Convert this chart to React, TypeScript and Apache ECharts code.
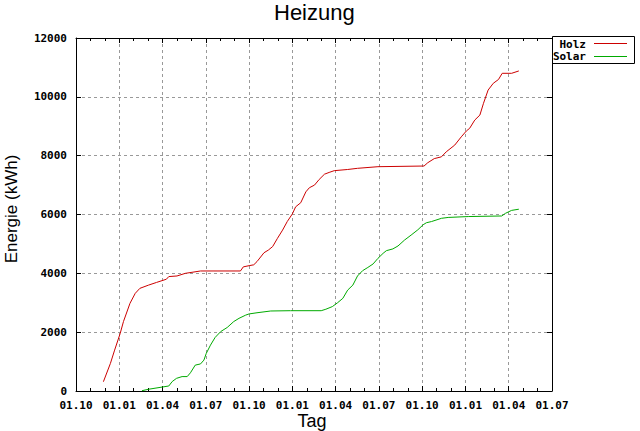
import React, { useEffect, useRef } from "react";
import * as echarts from "echarts";

const TITLE = "Heizung";
const X_NAME = "Tag";
const Y_NAME = "Energie (kWh)";
const SERIES_NAMES = ["Holz", "Solar"];
const SERIES_COLORS = ["#cc0000", "#00aa00"];

// x axis: months counted from 01.10.2008, ticks every 3 months
const X_START_YEAR = 2008;
const X_START_MONTH = 10;
const X_MAX_MONTHS = 33;
const X_TICK_MONTHS = 3;
const Y_MAX = 12000;
const Y_TICK = 2000;

const holzDates = [
  "2008-11-28", "2008-12-13", "2008-12-22", "2009-01-03", "2009-01-10", "2009-01-24",
  "2009-02-04", "2009-02-13", "2009-03-02", "2009-03-19", "2009-04-09", "2009-04-14",
  "2009-05-01", "2009-05-19", "2009-06-20", "2009-09-13", "2009-09-19", "2009-10-01",
  "2009-10-11", "2009-10-18", "2009-11-02", "2009-11-11", "2009-11-20", "2009-11-30",
  "2009-12-11", "2009-12-21", "2010-01-01", "2010-01-08", "2010-01-19", "2010-01-30",
  "2010-02-06", "2010-02-16", "2010-02-25", "2010-03-08", "2010-03-18", "2010-03-29",
  "2010-04-26", "2010-05-17", "2010-06-29", "2010-10-05", "2010-10-13", "2010-10-27",
  "2010-11-11", "2010-11-21", "2010-12-09", "2010-12-23", "2011-01-03", "2011-01-10",
  "2011-01-21", "2011-02-01", "2011-02-08", "2011-02-17", "2011-02-27", "2011-03-10",
  "2011-03-18", "2011-04-07", "2011-04-22",
];
const holzValues = [
  316, 940, 1390, 1960, 2360, 2980,
  3320, 3490, 3600, 3690, 3800, 3890,
  3910, 4000, 4080, 4080, 4220, 4260,
  4290, 4400, 4700, 4790, 4910, 5190,
  5470, 5760, 6020, 6260, 6400, 6770,
  6910, 7000, 7190, 7370, 7430, 7490,
  7530, 7570, 7625, 7648, 7760, 7900,
  7960, 8130, 8360, 8640, 8840, 8930,
  9210, 9380, 9780, 10230, 10460, 10590,
  10800, 10800, 10880,
];

const solarDates = [
  "2009-02-17", "2009-03-02", "2009-04-14", "2009-04-21", "2009-04-30", "2009-05-12",
  "2009-05-23", "2009-05-30", "2009-06-09", "2009-06-20", "2009-06-27", "2009-07-02",
  "2009-07-11", "2009-07-21", "2009-08-02", "2009-08-16", "2009-08-30", "2009-09-10",
  "2009-09-24", "2009-10-01", "2009-10-18", "2009-11-16", "2009-12-28", "2010-03-01",
  "2010-03-11", "2010-03-25", "2010-04-05", "2010-04-16", "2010-04-26", "2010-05-07",
  "2010-05-17", "2010-05-28", "2010-06-08", "2010-06-19", "2010-06-29", "2010-07-10",
  "2010-07-17", "2010-07-31", "2010-08-11", "2010-08-25", "2010-09-08", "2010-09-22",
  "2010-10-03", "2010-10-10", "2010-10-21", "2010-11-11", "2010-11-25", "2011-01-07",
  "2011-03-17", "2011-03-25", "2011-04-07", "2011-04-22",
];
const solarValues = [
  10, 60, 170, 320, 430, 490,
  490, 620, 880, 920, 1050, 1280,
  1560, 1820, 2020, 2160, 2360, 2470,
  2580, 2620, 2660, 2720, 2730, 2730,
  2780, 2870, 3000, 3150, 3430, 3600,
  3910, 4090, 4200, 4320, 4510, 4680,
  4770, 4830, 4930, 5130, 5300, 5480,
  5650, 5720, 5760, 5870, 5900, 5930,
  5950, 6040, 6140, 6180,
];

function monthOffset(date: string): number {
  const [y, m, d] = date.split("-").map(Number);
  const dim = new Date(y, m, 0).getDate();
  return (y - X_START_YEAR) * 12 + (m - X_START_MONTH) + (d - 1) / dim;
}

function toPairs(dates: string[], values: number[]) {
  return dates.map((d, i) => [monthOffset(d), values[i]]);
}

const MONO = "'DejaVu Sans Mono', 'Liberation Mono', monospace";
const SANS = "'Liberation Sans', Arial, sans-serif";

export default function App() {
  const ref = useRef<HTMLDivElement>(null);
  useEffect(() => {
    if (!ref.current) return;
    const chart = echarts.init(ref.current, undefined, { renderer: "svg" });
    const gridLine = { show: true, lineStyle: { color: "#999", type: [3, 3] as any, width: 1 } };
    const tickLabel = { fontFamily: MONO, fontWeight: "bold" as const, fontSize: 11, color: "#000" };
    const axisLine = { show: true, onZero: false, lineStyle: { color: "#000", width: 1 } };
    const xFormatter = (v: number) => {
      const mo = ((X_START_MONTH - 1 + Math.round(v)) % 12) + 1;
      return "01." + String(mo).padStart(2, "0");
    };
    const xBase = {
      type: "value" as const,
      min: 0,
      max: X_MAX_MONTHS,
      interval: X_TICK_MONTHS,
      axisLine,
      axisTick: { show: true, inside: true, length: 5, lineStyle: { color: "#000" } },
      minorTick: { show: true, splitNumber: 3, length: 3, lineStyle: { color: "#000" } },
    };
    const yBase = {
      type: "value" as const,
      min: 0,
      max: Y_MAX,
      interval: Y_TICK,
      axisLine,
      axisTick: { show: true, inside: true, length: 5, lineStyle: { color: "#000" } },
    };
    chart.setOption({
      animation: false,
      backgroundColor: "#fff",
      title: {
        text: TITLE,
        left: 269,
        top: -4,
        textStyle: { fontFamily: SANS, fontSize: 22, fontWeight: "normal", color: "#000" },
      },
      grid: { left: 76, right: 88, top: 38, bottom: 40, containLabel: false },
      xAxis: [
        {
          ...xBase,
          position: "bottom",
          splitLine: gridLine,
          axisLabel: { ...tickLabel, margin: 9, formatter: xFormatter },
        },
        {
          ...xBase,
          position: "top",
          splitLine: { show: false },
          axisLabel: { show: false },
        },
      ],
      yAxis: [
        {
          ...yBase,
          position: "left",
          splitLine: gridLine,
          axisLabel: { ...tickLabel, margin: 9, formatter: (v: number) => String(v) },
        },
        {
          ...yBase,
          position: "right",
          splitLine: { show: false },
          axisLabel: { show: false },
        },
      ],
      series: [
        {
          name: SERIES_NAMES[0],
          type: "line",
          data: toPairs(holzDates, holzValues),
          showSymbol: false,
          lineStyle: { color: SERIES_COLORS[0], width: 1 },
          itemStyle: { color: SERIES_COLORS[0] },
        },
        {
          name: SERIES_NAMES[1],
          type: "line",
          data: toPairs(solarDates, solarValues),
          showSymbol: false,
          lineStyle: { color: SERIES_COLORS[1], width: 1 },
          itemStyle: { color: SERIES_COLORS[1] },
        },
      ],
      graphic: [
        {
          type: "text",
          x: 11,
          y: 209,
          rotation: Math.PI / 2,
          style: {
            text: Y_NAME,
            fontFamily: SANS,
            fontSize: 17,
            fill: "#000",
            textAlign: "center",
            textVerticalAlign: "middle",
          },
        },
        {
          type: "text",
          x: 312,
          y: 421,
          style: {
            text: X_NAME,
            fontFamily: SANS,
            fontSize: 18,
            fill: "#000",
            textAlign: "center",
            textVerticalAlign: "middle",
          },
        },
        {
          type: "rect",
          shape: { x: 552.5, y: 36.5, width: 82, height: 27 },
          style: { fill: "#fff", stroke: "#000", lineWidth: 1 },
        },
        {
          type: "text",
          x: 586,
          y: 44,
          style: {
            text: SERIES_NAMES[0],
            fontFamily: MONO,
            fontWeight: "bold",
            fontSize: 11,
            fill: "#000",
            textAlign: "right",
            textVerticalAlign: "middle",
          },
        },
        {
          type: "line",
          shape: { x1: 594, y1: 43.5, x2: 627, y2: 43.5 },
          style: { stroke: SERIES_COLORS[0], lineWidth: 1 },
        },
        {
          type: "text",
          x: 586,
          y: 56,
          style: {
            text: SERIES_NAMES[1],
            fontFamily: MONO,
            fontWeight: "bold",
            fontSize: 11,
            fill: "#000",
            textAlign: "right",
            textVerticalAlign: "middle",
          },
        },
        {
          type: "line",
          shape: { x1: 594, y1: 56.5, x2: 627, y2: 56.5 },
          style: { stroke: SERIES_COLORS[1], lineWidth: 1 },
        },
      ],
    });
    return () => chart.dispose();
  }, []);
  return (
    <div
      ref={ref}
      style={{ position: "fixed", left: 0, top: 0, width: 640, height: 431 }}
    />
  );
}
